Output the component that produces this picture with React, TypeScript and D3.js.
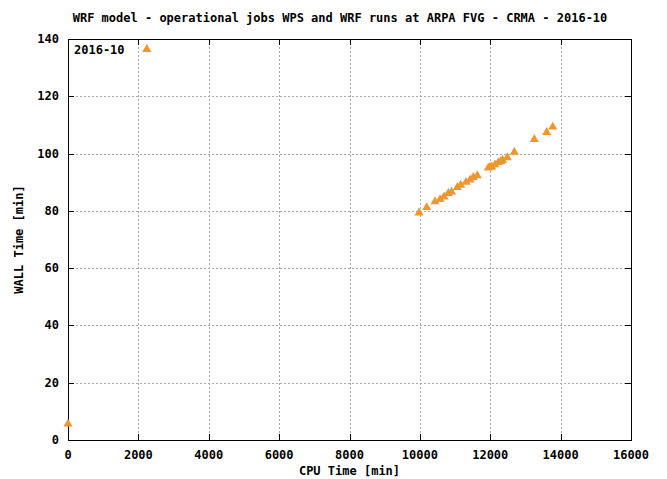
import React, { useEffect, useRef } from 'react';
import * as d3 from 'd3';

// CPU time vs wall time for each run of the month
const cpuTime = [0, 2240, 9975, 10194, 10430, 10572, 10686, 10808, 10900, 11064, 11160, 11311, 11425, 11518,
  11632, 11944, 11990, 12041, 12134, 12229, 12300, 12353, 12484, 12683, 13252, 13604, 13775];
const wallTime = [5.6, 136.4, 79.3, 81.2, 83.2, 84.0, 84.9, 86.1, 86.6, 88.2, 89.0, 90.0, 90.8, 91.7,
  92.3, 95.0, 95.2, 95.4, 96.1, 96.9, 97.3, 97.7, 98.6, 100.5, 105.0, 107.4, 109.3];
const xTicks = [0, 2000, 4000, 6000, 8000, 10000, 12000, 14000, 16000];
const yTicks = [0, 20, 40, 60, 80, 100, 120, 140];

const title = 'WRF model - operational jobs WPS and WRF runs at ARPA FVG - CRMA - 2016-10';
const keyLabel = '2016-10';

const W = 667, H = 479;
const margin = { left: 68, right: 36, top: 39, bottom: 39 };
const font = '"DejaVu Sans Mono", monospace';

export default function App() {
  const ref = useRef<SVGSVGElement>(null);

  useEffect(() => {
    const svg = d3.select(ref.current);
    svg.selectAll('*').remove();

    const x = d3.scaleLinear().domain([0, 16000]).range([margin.left, W - margin.right]);
    const y = d3.scaleLinear().domain([0, 140]).range([H - margin.bottom, margin.top]);
    const x0 = x(0), x1 = x(16000), y0 = y(0), y1 = y(140);

    svg.append('rect').attr('width', W).attr('height', H).attr('fill', '#fff');

    // grid
    const grid = svg.append('g').attr('stroke', '#a8a8a8').attr('stroke-width', 1).attr('stroke-dasharray', '2,2');
    xTicks.slice(1, -1).forEach(t => {
      grid.append('line').attr('x1', Math.round(x(t)) + 0.5).attr('x2', Math.round(x(t)) + 0.5)
        .attr('y1', y1).attr('y2', y0);
    });
    yTicks.slice(1, -1).forEach(t => {
      grid.append('line').attr('y1', Math.round(y(t)) + 0.5).attr('y2', Math.round(y(t)) + 0.5)
        .attr('x1', x0).attr('x2', x1);
    });

    // tick marks on all sides (gnuplot mirror style)
    const ticks = svg.append('g').attr('stroke', '#000').attr('stroke-width', 1);
    xTicks.forEach(t => {
      const px = Math.round(x(t)) + 0.5;
      ticks.append('line').attr('x1', px).attr('x2', px).attr('y1', y0).attr('y2', y0 - 6);
      ticks.append('line').attr('x1', px).attr('x2', px).attr('y1', y1).attr('y2', y1 + 6);
    });
    yTicks.forEach(t => {
      const py = Math.round(y(t)) + 0.5;
      ticks.append('line').attr('y1', py).attr('y2', py).attr('x1', x0).attr('x2', x0 + 6);
      ticks.append('line').attr('y1', py).attr('y2', py).attr('x1', x1).attr('x2', x1 - 6);
    });

    // frame
    svg.append('rect').attr('x', Math.round(x0) + 0.5).attr('y', Math.round(y1) + 0.5)
      .attr('width', Math.round(x1 - x0)).attr('height', Math.round(y0 - y1))
      .attr('fill', 'none').attr('stroke', '#000').attr('stroke-width', 1);

    const txt = (g: any) => g.attr('font-family', font).attr('font-size', 12).attr('font-weight', 'bold').attr('fill', '#000');

    // tick labels
    xTicks.forEach(t => {
      txt(svg.append('text')).attr('x', x(t)).attr('y', y0 + 19).attr('text-anchor', 'middle').text(String(t));
    });
    yTicks.forEach(t => {
      txt(svg.append('text')).attr('x', x0 - 9).attr('y', y(t) + 4).attr('text-anchor', 'end').text(String(t));
    });

    // titles
    txt(svg.append('text')).attr('x', 340).attr('y', 22).attr('text-anchor', 'middle').text(title);
    txt(svg.append('text')).attr('x', (x0 + x1) / 2).attr('y', 475).attr('text-anchor', 'middle').text('CPU Time [min]');
    txt(svg.append('text')).attr('transform', `translate(23,${(y0 + y1) / 2}) rotate(-90)`)
      .attr('text-anchor', 'middle').text('WALL Time [min]');

    // key
    txt(svg.append('text')).attr('x', 74).attr('y', 54).text(keyLabel);

    // points
    const tri = d3.symbol().type(d3.symbolTriangle).size(36);
    svg.append('g').selectAll('path')
      .data(cpuTime.map((c, i) => [c, wallTime[i]]))
      .enter().append('path')
      .attr('d', tri)
      .attr('transform', d => `translate(${x(d[0])},${y(d[1])})`)
      .attr('fill', '#f0962a');
  }, []);

  return <svg ref={ref} width={W} height={H} style={{ position: 'absolute', left: 0, top: 0 }} />;
}
